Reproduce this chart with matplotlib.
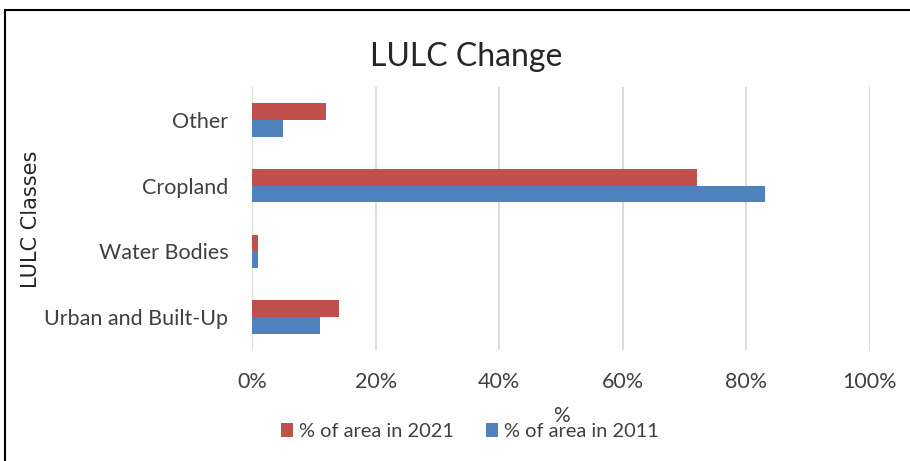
import numpy as np
import matplotlib.pyplot as plt
from matplotlib.patches import Rectangle
from matplotlib.ticker import PercentFormatter

plt.rcParams['font.family'] = ['Lato', 'DejaVu Sans']

# data (bottom to top)
categories = ["Urban and Built-Up", "Water Bodies", "Cropland", "Other"]
area_2021 = [14, 1, 72, 12]
area_2011 = [11, 1, 83, 5]

RED = "#C0504D"
BLUE = "#4F81BD"
GRID = "#D9D9D9"
TXT = "#404040"

fig = plt.figure(figsize=(9.1, 4.61), dpi=100)
fig.patch.set_facecolor("white")

# outer chart border (cut off at right/bottom like the source)
fig.patches.append(Rectangle((5 / 910, -0.1), 1.2, 1.1 - 10 / 461,
                             transform=fig.transFigure, fill=False,
                             edgecolor="black", linewidth=1.5))

ax = fig.add_axes([252 / 910, 1 - 350 / 461, 618 / 910, 263 / 461])

y = np.arange(len(categories))
h = 0.255
ax.barh(y + h / 2, area_2021, height=h, color=RED, label="% of area in 2021", zorder=3)
ax.barh(y - h / 2, area_2011, height=h, color=BLUE, label="% of area in 2011", zorder=3)

ax.set_xlim(0, 100)
ax.set_ylim(-0.5, len(categories) - 0.5)
ax.set_xticks(np.arange(0, 101, 20))
ax.xaxis.set_major_formatter(PercentFormatter(decimals=0))
ax.set_yticks(y)
ax.set_yticklabels(categories)
ax.grid(axis="x", color=GRID, linewidth=1.3, zorder=0)
for s in ax.spines.values():
    s.set_visible(False)
ax.tick_params(axis="both", length=0, labelsize=15.5, colors=TXT)
ax.tick_params(axis="y", pad=17)
ax.tick_params(axis="x", pad=16)

# title, axis titles placed like the Excel chart
fig.text(466 / 910, 1 - 57 / 461, "LULC Change", fontsize=23, color="#262626",
         ha="center", va="center")
fig.text(561 / 910, 1 - 416 / 461, "%", fontsize=15, color=TXT,
         ha="center", va="center")
fig.text(31 / 910, 1 - 219 / 461, "LULC Classes", fontsize=15, color="#262626",
         family=["DejaVu Sans"], rotation=90, ha="center", va="center")

fig.legend(loc="center", bbox_to_anchor=(470 / 910, 1 - 431 / 461), ncol=2,
           frameon=False, fontsize=14.4, handlelength=0.6, handleheight=0.7,
           handletextpad=0.3, columnspacing=1.6, labelcolor=TXT)

fig.savefig("out.png", dpi=100, facecolor="white")
